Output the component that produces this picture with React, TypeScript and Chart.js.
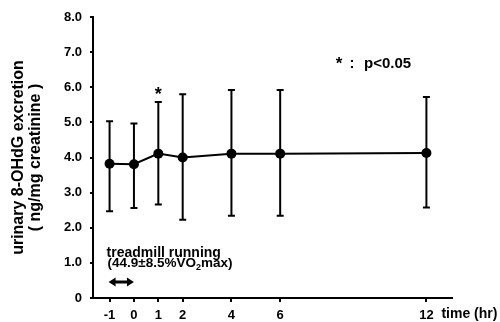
import React, { useEffect, useRef } from 'react';
import { Chart, registerables } from 'chart.js';

Chart.register(...registerables);

const timeHours = [-1, 0, 1, 2, 4, 6, 12];
const meanValues = [3.82, 3.81, 4.11, 4.0, 4.11, 4.11, 4.13];
const upperValues = [5.03, 4.97, 5.58, 5.8, 5.92, 5.92, 5.72];
const lowerValues = [2.47, 2.56, 2.66, 2.23, 2.34, 2.34, 2.58];
const xTickValues = [-1, 0, 1, 2, 4, 6, 12];
const yTickValues = [0, 1, 2, 3, 4, 5, 6, 7, 8];
const significantIndexes = [2];
const yTitleLines = ['urinary 8-OHdG excretion', '( ng/mg creatinine )'];
const xTitle = 'time (hr)';
const legendStar = '*';
const legendColon = ':';
const legendP = 'p<0.05';
const exerciseLabel = 'treadmill running';
const exercisePrefix = '(44.9\u00b18.5%';
const exerciseV = 'V';
const exerciseO = 'O';
const exerciseSub = '2';
const exerciseSuffix = 'max)';
const exerciseStart = -1;
const exerciseEnd = 0;

const FONT = '"Liberation Sans", Arial, Helvetica, sans-serif';

const annotationPlugin = {
  id: 'annotations',
  beforeDatasetsDraw(chart: any) {
    const { ctx, scales } = chart;
    const x = scales.x;
    const y = scales.y;
    ctx.save();
    ctx.strokeStyle = '#000';
    ctx.lineWidth = 2;
    for (let i = 0; i < timeHours.length; i++) {
      const px = x.getPixelForValue(timeHours[i]);
      const top = y.getPixelForValue(upperValues[i]);
      const bot = y.getPixelForValue(lowerValues[i]);
      ctx.beginPath();
      ctx.moveTo(px, top);
      ctx.lineTo(px, bot);
      ctx.moveTo(px - 3.5, top);
      ctx.lineTo(px + 3.5, top);
      ctx.moveTo(px - 3.5, bot);
      ctx.lineTo(px + 3.5, bot);
      ctx.stroke();
    }
    ctx.restore();
  },
  afterDraw(chart: any) {
    const { ctx, scales, chartArea } = chart;
    const x = scales.x;
    const y = scales.y;
    ctx.save();
    ctx.fillStyle = '#000';
    ctx.strokeStyle = '#000';

    // significance asterisks
    ctx.font = `bold 18px ${FONT}`;
    ctx.textAlign = 'center';
    ctx.textBaseline = 'alphabetic';
    for (const i of significantIndexes) {
      const px = x.getPixelForValue(timeHours[i]);
      const py = y.getPixelForValue(upperValues[i]);
      ctx.fillText('*', px, py - 2);
    }

    // legend text
    const lx = chartArea.left + 242;
    const ly = 68;
    ctx.font = `bold 17px ${FONT}`;
    ctx.textAlign = 'center';
    ctx.fillText(legendStar, lx + 4, ly + 1);
    ctx.font = `bold 15px ${FONT}`;
    ctx.fillText(legendColon, lx + 17, ly);
    ctx.textAlign = 'left';
    ctx.fillText(legendP, lx + 29, ly);

    // x title
    ctx.font = `bold 14px ${FONT}`;
    ctx.textAlign = 'left';
    ctx.fillText(xTitle, x.getPixelForValue(12) + 15, 318);

    // exercise label
    const sx = x.getPixelForValue(exerciseStart);
    const ex = x.getPixelForValue(exerciseEnd);
    ctx.font = `bold 14px ${FONT}`;
    ctx.fillText(exerciseLabel, sx - 3, 257);

    ctx.font = `bold 13.5px ${FONT}`;
    let cx = sx - 2;
    const by = 267;
    ctx.fillText(exercisePrefix, cx, by);
    cx += ctx.measureText(exercisePrefix).width;
    const vw = ctx.measureText(exerciseV).width;
    ctx.fillText(exerciseV, cx, by);
    ctx.beginPath();
    ctx.arc(cx + vw / 2, by - 12, 1.1, 0, Math.PI * 2);
    ctx.fill();
    cx += vw;
    ctx.fillText(exerciseO, cx, by);
    cx += ctx.measureText(exerciseO).width;
    ctx.font = `bold 9px ${FONT}`;
    ctx.fillText(exerciseSub, cx, by + 3);
    cx += ctx.measureText(exerciseSub).width;
    ctx.font = `bold 13.5px ${FONT}`;
    ctx.fillText(exerciseSuffix, cx, by);

    // double arrow
    const ay = 282;
    const head = 7;
    ctx.lineWidth = 3;
    ctx.beginPath();
    ctx.moveTo(sx - 1 + head - 1, ay);
    ctx.lineTo(ex - head + 1, ay);
    ctx.stroke();
    ctx.beginPath();
    ctx.moveTo(sx - 1, ay);
    ctx.lineTo(sx - 1 + head, ay - 4.5);
    ctx.lineTo(sx - 1 + head, ay + 4.5);
    ctx.closePath();
    ctx.fill();
    ctx.beginPath();
    ctx.moveTo(ex, ay);
    ctx.lineTo(ex - head, ay - 4.5);
    ctx.lineTo(ex - head, ay + 4.5);
    ctx.closePath();
    ctx.fill();

    ctx.restore();
  },
};

export default function App() {
  const canvasRef = useRef<HTMLCanvasElement | null>(null);

  useEffect(() => {
    if (!canvasRef.current) return;
    const chart = new Chart(canvasRef.current, {
      type: 'line',
      data: {
        datasets: [
          {
            data: timeHours.map((t, i) => ({ x: t, y: meanValues[i] })),
            borderColor: '#000',
            borderWidth: 2,
            pointRadius: 5,
            pointBackgroundColor: '#000',
            pointBorderWidth: 0,
            tension: 0,
            fill: false,
          },
        ],
      },
      options: {
        responsive: false,
        animation: false,
        layout: { padding: { left: 0, top: 17, right: 48, bottom: 0 } },
        plugins: {
          legend: { display: false },
          tooltip: { enabled: false },
        },
        scales: {
          x: {
            type: 'linear',
            min: -1.68,
            max: 13.05,
            afterBuildTicks: (scale: any) => {
              scale.ticks = xTickValues.map((v) => ({ value: v }));
            },
            afterFit: (scale: any) => {
              scale.height = 24;
            },
            border: { display: true, color: '#000', width: 2 },
            grid: {
              display: true,
              drawOnChartArea: false,
              drawTicks: true,
              tickLength: 4,
              color: '#000',
              lineWidth: 2,
            },
            ticks: {
              color: '#000',
              padding: 6,
              autoSkip: false,
              maxRotation: 0,
              font: { family: FONT, size: 13, weight: 'bold' },
              callback: (v: any) => String(v),
            },
          },
          y: {
            type: 'linear',
            min: 0,
            max: 8,
            afterBuildTicks: (scale: any) => {
              scale.ticks = yTickValues.map((v) => ({ value: v }));
            },
            afterFit: (scale: any) => {
              scale.width = 93;
            },
            border: { display: true, color: '#000', width: 2 },
            grid: {
              display: true,
              drawOnChartArea: false,
              drawTicks: true,
              tickLength: 3,
              color: '#000',
              lineWidth: 2,
            },
            ticks: {
              color: '#000',
              padding: 8,
              font: { family: FONT, size: 13, weight: 'bold' },
              callback: (v: any) => (v === 0 ? '0' : Number(v).toFixed(1)),
            },
            title: {
              display: true,
              text: yTitleLines,
              color: '#000',
              padding: { top: 10, bottom: 0 },
              font: { family: FONT, size: 16, weight: 'bold', lineHeight: 1.05 },
            },
          },
        },
      },
      plugins: [annotationPlugin],
    });
    return () => chart.destroy();
  }, []);

  return (
    <div style={{ position: 'absolute', left: 0, top: 0, width: 500, height: 322, background: '#fff' }}>
      <canvas ref={canvasRef} width={500} height={322} style={{ display: 'block' }} />
    </div>
  );
}
